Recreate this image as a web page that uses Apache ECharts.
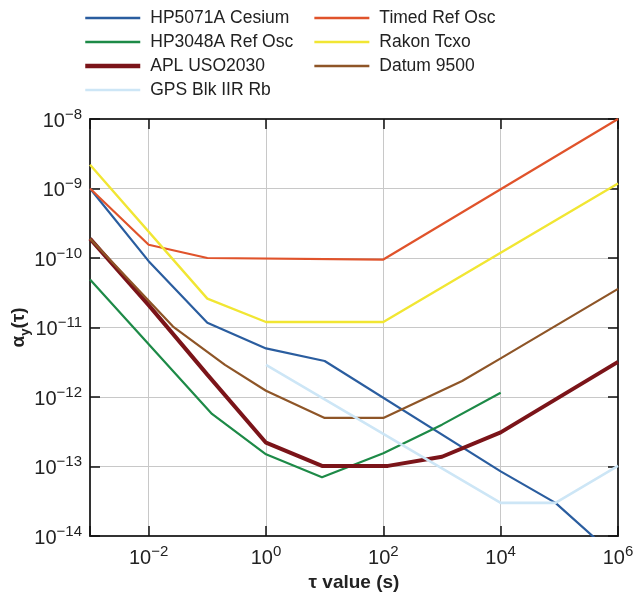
<!DOCTYPE html>
<html>
<head>
<meta charset="utf-8">
<script src="https://cdn.jsdelivr.net/npm/echarts@6/dist/echarts.min.js"></script>
<style>
html,body{margin:0;padding:0;background:#fff;}
#chart{width:634px;height:593px;}
</style>
</head>
<body>
<div id="chart"></div>
<script>
// ---- data (tau in s, Allan deviation) ----
const seriesNames = ['HP5071A Cesium','Timed Ref Osc','HP3048A Ref Osc','Rakon Tcxo','APL USO2030','Datum 9500','GPS Blk IIR Rb'];
const legendCol1 = ['HP5071A Cesium','HP3048A Ref Osc','APL USO2030','GPS Blk IIR Rb'];
const legendCol2 = ['Timed Ref Osc','Rakon Tcxo','Datum 9500'];

const cesiumX = [1e-3, 1e-2, 0.1, 1, 10, 1e4, 8.6e4, 1e6];
const cesiumY = [1e-9, 9e-11, 1.17e-11, 5e-12, 3.3e-12, 8.5e-14, 3e-14, 4.7e-15];

const timedX = [1e-3, 1e-2, 0.1, 1e2, 1e6];
const timedY = [1e-9, 1.55e-10, 1e-10, 9.5e-11, 1e-8];

const hp3048X = [1e-3, 0.12, 1, 9, 1e2, 1e3, 1e4];
const hp3048Y = [4.9e-11, 5.7e-13, 1.5e-13, 7e-14, 1.55e-13, 4e-13, 1.15e-12];

const rakonX = [1e-3, 0.1, 1, 1e2, 1e6];
const rakonY = [2.2e-9, 2.6e-11, 1.2e-11, 1.2e-11, 1.18e-9];

const aplX = [1e-3, 1e-2, 0.1, 1, 9, 120, 1e3, 1e4, 1e6];
const aplY = [1.9e-10, 2.1e-11, 2.1e-12, 2.2e-13, 1.02e-13, 1.02e-13, 1.38e-13, 3.1e-13, 3.2e-12];

const datumX = [1e-3, 0.026, 0.2, 1, 10, 1e2, 2200, 1e4, 1e6];
const datumY = [1.9e-10, 1.03e-11, 2.9e-12, 1.23e-12, 5e-13, 5e-13, 1.7e-12, 3.6e-12, 3.6e-11];

const gpsX = [1, 1e4, 8.6e4, 1e6];
const gpsY = [2.9e-12, 3e-14, 3e-14, 1.02e-13];

// ---- styles ----
const colors = ['#2a5d9f','#e0532b','#1d8a47','#f1e633','#7b1419','#8e5527','#cde6f6'];
const widths = [2.2, 2.2, 2.2, 2.4, 4, 2.2, 2.6];
const xs = [cesiumX, timedX, hp3048X, rakonX, aplX, datumX, gpsX];
const ys = [cesiumY, timedY, hp3048Y, rakonY, aplY, datumY, gpsY];

function zip(a, b){ return a.map((v,i)=>[v, b[i]]); }
function expStr(e){ return e < 0 ? '\u2212' + (-e) : String(e); }
const FONT = '"Liberation Sans", Arial, Helvetica, sans-serif';
const labelRich = {
  b: {fontSize: 20, fontFamily: FONT, color: '#222', verticalAlign: 'bottom'},
  s: {fontSize: 15, fontFamily: FONT, color: '#222', verticalAlign: 'bottom', padding: [0,0,9,0]}
};

const chart = echarts.init(document.getElementById('chart'), null, {renderer: 'canvas'});
const axisLineStyle = {color: '#333', width: 2};
const tickStyle = {show: true, inside: true, length: 10, lineStyle: {color: '#111', width: 1.5}};

function legendItems(names){
  return names.map(n => ({name: n, lineStyle: {width: n === 'APL USO2030' ? 4.5 : 2.7}}));
}
const legendCommon = {
  orient: 'vertical', top: 9, padding: 0,
  itemWidth: 55, itemHeight: 18, itemGap: 6, selectedMode: false,
  itemStyle: {opacity: 0},
  textStyle: {fontSize: 17.5, fontFamily: FONT, color: '#222', padding: [0,0,0,5]}
};

const option = {
  animation: false,
  backgroundColor: '#fff',
  grid: {left: 90, right: 16, top: 119, bottom: 57, containLabel: false, outerBoundsMode: 'none'},
  legend: [
    Object.assign({data: legendItems(legendCol1), left: 83}, legendCommon),
    Object.assign({data: legendItems(legendCol2), left: 313}, legendCommon)
  ],
  xAxis: [
    {
      type: 'log', logBase: 100, min: 1e-3, max: 1e6, position: 'bottom',
      axisLine: {show: true, onZero: false, lineStyle: axisLineStyle},
      axisTick: tickStyle,
      splitLine: {show: true, lineStyle: {color: '#c8c8c8', width: 1}},
      axisLabel: {
        margin: 8,
        formatter: function(v){
          const e = Math.round(Math.log10(v));
          if (e % 2 !== 0) return '';
          return '{b|10}{s|' + expStr(e) + '}';
        },
        rich: labelRich
      },
      name: 'τ value (s)', nameLocation: 'middle', nameGap: 31,
      nameTextStyle: {fontSize: 19, fontWeight: 'bold', fontFamily: FONT, color: '#222'}
    },
    {
      type: 'log', logBase: 100, min: 1e-3, max: 1e6, position: 'top',
      axisLine: {show: true, onZero: false, lineStyle: axisLineStyle},
      axisTick: tickStyle,
      splitLine: {show: false},
      axisLabel: {show: false}
    }
  ],
  yAxis: [
    {
      type: 'log', logBase: 10, min: 1e-14, max: 1e-8, position: 'left',
      axisLine: {show: true, onZero: false, lineStyle: axisLineStyle},
      axisTick: tickStyle,
      splitLine: {show: true, lineStyle: {color: '#c8c8c8', width: 1}},
      axisLabel: {
        margin: 8,
        formatter: function(v){
          const e = Math.round(Math.log10(v));
          return '{b|10}{s|' + expStr(e) + '}';
        },
        rich: labelRich
      },
      name: '{a|α}{sub|y}{a|(τ)}', nameLocation: 'middle', nameGap: 57, nameRotate: 90,
      nameMoveOverlap: false,
      nameTextStyle: {
        rich: {
          a: {fontSize: 19, fontWeight: 'bold', fontFamily: FONT, color: '#222', verticalAlign: 'top', lineHeight: 24},
          sub: {fontSize: 13, fontWeight: 'bold', fontFamily: FONT, color: '#222', verticalAlign: 'top', lineHeight: 13, padding: [10,0,0,0]}
        }
      }
    },
    {
      type: 'log', logBase: 10, min: 1e-14, max: 1e-8, position: 'right',
      axisLine: {show: true, onZero: false, lineStyle: axisLineStyle},
      axisTick: tickStyle,
      splitLine: {show: false},
      axisLabel: {show: false}
    }
  ],
  series: seriesNames.map((name, i) => ({
    name: name,
    type: 'line',
    xAxisIndex: 0, yAxisIndex: 0,
    data: zip(xs[i], ys[i]),
    symbol: 'none',
    showSymbol: false,
    clip: true,
    color: colors[i],
    lineStyle: {color: colors[i], width: widths[i]},
    z: 2 + i
  }))
};
chart.setOption(option);
</script>
</body>
</html>
